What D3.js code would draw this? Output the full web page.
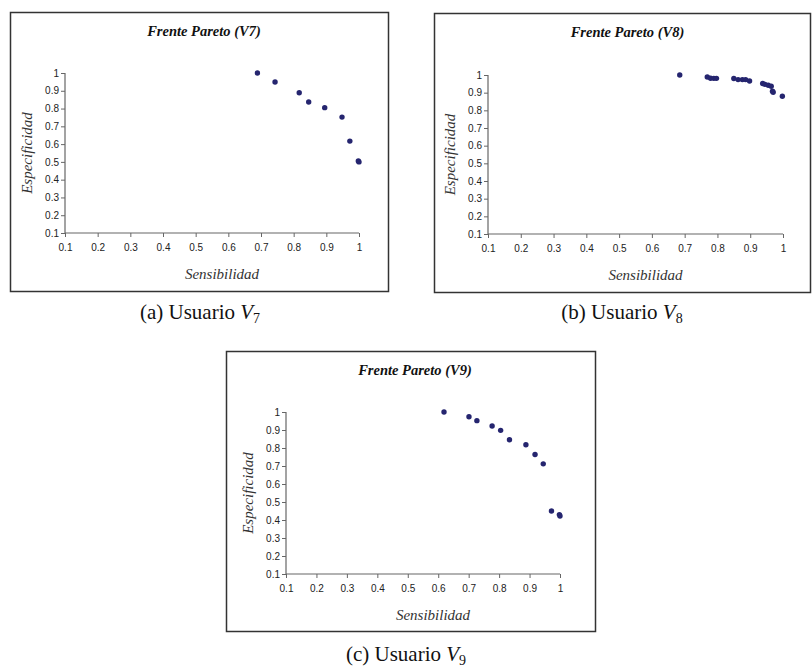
<!DOCTYPE html>
<meta charset="utf-8">
<script src="https://d3js.org/d3.v7.min.js"></script>
<head>
<style>
  body { margin: 0; background: #fff; }
  .serif { font-family: "Liberation Serif", "Times New Roman", Times, "DejaVu Serif", serif; }
  .sans { font-family: "Liberation Sans", Arial, Helvetica, sans-serif; }
</style>
</head>
<body>
<div id="my_dataviz"></div>
<script>
        // tick values and labels shared by all three charts
        var xTicks = [0.1, 0.2, 0.3, 0.4, 0.5, 0.6, 0.7, 0.8, 0.9, 1];
        var xTickLabels = ["0.1", "0.2", "0.3", "0.4", "0.5", "0.6", "0.7", "0.8", "0.9", "1"];
        var yTicks = [0.1, 0.2, 0.3, 0.4, 0.5, 0.6, 0.7, 0.8, 0.9, 1];
        var yTickLabels = ["0.1", "0.2", "0.3", "0.4", "0.5", "0.6", "0.7", "0.8", "0.9", "1"];

        // Usuario V7
        var v7Sens  = [0.689, 0.743, 0.817, 0.846, 0.895, 0.948, 0.972, 0.998, 1.0];
        var v7Espec = [1.0, 0.949, 0.889, 0.837, 0.805, 0.752, 0.617, 0.505, 0.500];

        // Usuario V8
        var v8Sens  = [0.685, 0.769, 0.779, 0.789, 0.797, 0.850, 0.863, 0.876, 0.886, 0.898, 0.938, 0.945, 0.955, 0.964, 0.968, 0.970, 0.998];
        var v8Espec = [1.0, 0.989, 0.982, 0.981, 0.981, 0.980, 0.974, 0.974, 0.974, 0.966, 0.952, 0.947, 0.942, 0.936, 0.908, 0.902, 0.880];

        // Usuario V9
        var v9Sens  = [0.619, 0.701, 0.727, 0.777, 0.805, 0.834, 0.888, 0.918, 0.945, 0.972, 0.998, 1.0];
        var v9Espec = [1.0, 0.974, 0.952, 0.922, 0.898, 0.846, 0.818, 0.764, 0.712, 0.450, 0.430, 0.422];

        var titles = ["Frente Pareto (V7)", "Frente Pareto (V8)", "Frente Pareto (V9)"];
        var captionTags = ["(a)", "(b)", "(c)"];
        var captionSubs = ["7", "8", "9"];

        var series = [
          {sens: v7Sens, espec: v7Espec},
          {sens: v8Sens, espec: v8Espec},
          {sens: v9Sens, espec: v9Espec}
        ];

        // frame of each chart and where its plot area sits inside the frame
        var layout = [
          {x: 10,  y: 12,  w: 379, h: 280, left: 55, right: 349, top: 61, bottom: 221, capX: 200, capY: 319},
          {x: 434, y: 13,  w: 377, h: 280, left: 54, right: 349, top: 62, bottom: 221, capX: 622, capY: 319},
          {x: 226, y: 351, w: 370, h: 281, left: 60, right: 334, top: 61, bottom: 223, capX: 406, capY: 661}
        ];

        var svg = d3.select("#my_dataviz")
          .append("svg")
            .attr("width", 812)
            .attr("height", 672);

        layout.forEach(function(L, i) {
          var g = svg.append("g")
            .attr("transform", "translate(" + L.x + "," + L.y + ")");

          // border
          g.append("rect")
            .attr("x", 0.5).attr("y", 0.5)
            .attr("width", L.w - 1).attr("height", L.h - 1)
            .attr("fill", "#fff")
            .attr("stroke", "#333")
            .attr("stroke-width", 1.5);

          var plotW = L.right - L.left;

          g.append("text")
            .attr("class", "serif")
            .attr("x", L.left + plotW / 2 - 8)
            .attr("y", 24)
            .attr("text-anchor", "middle")
            .style("font-weight", "bold")
            .style("font-style", "italic")
            .style("font-size", "14.5px")
            .style("fill", "#111")
            .text(titles[i]);

          var x = d3.scaleLinear()
            .domain([0.1, 1])
            .range([L.left, L.right]);
          var y = d3.scaleLinear()
            .domain([0.1, 1])
            .range([L.bottom, L.top]);

          var xAxis = g.append("g")
            .attr("transform", "translate(0," + L.bottom + ")")
            .call(d3.axisBottom(x).tickValues(xTicks).tickSize(4).tickPadding(7)
              .tickFormat(function(d, k) { return xTickLabels[k]; }));
          var yAxis = g.append("g")
            .attr("transform", "translate(" + L.left + ",0)")
            .call(d3.axisLeft(y).tickValues(yTicks).tickSize(4).tickPadding(2)
              .tickFormat(function(d, k) { return yTickLabels[k]; }));

          [xAxis, yAxis].forEach(function(ax) {
            ax.attr("font-family", null);
            ax.select(".domain").attr("stroke", "#666").attr("stroke-width", 1.2);
            ax.selectAll(".tick line").attr("stroke", "#666");
            ax.selectAll(".tick text")
              .attr("class", "sans")
              .style("font-size", "10px")
              .style("fill", "#222");
          });
          xAxis.select(".domain").attr("d", "M" + L.left + ",0H" + L.right);
          yAxis.select(".domain").attr("d", "M0," + L.bottom + "V" + L.top);

          g.append("text")
            .attr("class", "serif")
            .attr("x", L.left + plotW / 2 + 10)
            .attr("y", L.bottom + 46)
            .attr("text-anchor", "middle")
            .style("font-style", "italic")
            .style("font-size", "15px")
            .style("fill", "#333")
            .text("Sensibilidad");

          g.append("text")
            .attr("class", "serif")
            .attr("transform", "translate(" + (L.left - 33) + "," + ((L.top + L.bottom) / 2) + ") rotate(-90)")
            .attr("text-anchor", "middle")
            .style("font-style", "italic")
            .style("font-size", "15px")
            .style("fill", "#333")
            .text("Especificidad");

          var s = series[i];
          g.append("g")
            .selectAll("circle")
            .data(s.sens)
            .enter()
            .append("circle")
              .attr("cx", function(d) { return x(d); })
              .attr("cy", function(d, k) { return y(s.espec[k]); })
              .attr("r", 2.7)
              .style("fill", "#25256f");

          // caption below the frame
          var cap = svg.append("text")
            .attr("class", "serif")
            .attr("x", L.capX)
            .attr("y", L.capY)
            .attr("text-anchor", "middle")
            .style("font-size", "21px")
            .style("fill", "#111");
          cap.append("tspan").text(captionTags[i] + " Usuario ");
          cap.append("tspan").style("font-style", "italic").text("V");
          cap.append("tspan").attr("dy", 4).style("font-size", "14px").text(captionSubs[i]);
        });
</script>
</body>
